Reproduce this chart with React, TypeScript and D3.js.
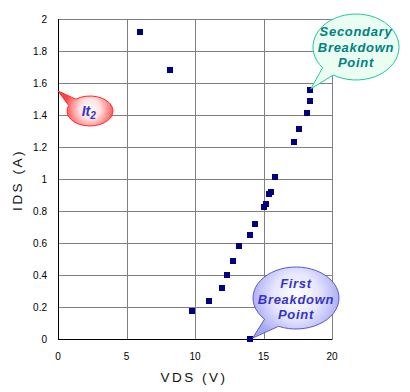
import React from "react";
import * as d3 from "d3";

// VDS (V) / IDS (A) measured points
const vds = [5.96, 8.15, 9.76, 11.0, 11.95, 12.34, 12.75, 13.19, 13.99, 14.38, 15.01, 15.18, 15.43, 15.58, 15.82, 17.2, 17.59, 18.15, 18.37, 18.37, 13.99];
const ids = [1.92, 1.68, 0.175, 0.24, 0.32, 0.4, 0.49, 0.58, 0.65, 0.72, 0.825, 0.844, 0.906, 0.92, 1.01, 1.233, 1.315, 1.41, 1.487, 1.556, 0];

const xTicks = [0, 5, 10, 15, 20];
const yTicks = [0, 0.2, 0.4, 0.6, 0.8, 1, 1.2, 1.4, 1.6, 1.8, 2];

const W = 410,
  H = 392;

const x = d3.scaleLinear().domain([0, 20]).range([58, 332]);
const y = d3.scaleLinear().domain([0, 2]).range([339, 19]);

const crisp = (v: number) => Math.round(v) + 0.5;

// ellipse + tail in one path
const bubble = (cx: number, cy: number, rx: number, ry: number, a1: number, a2: number, tx: number, ty: number) => {
  const r = (a: number) => (a * Math.PI) / 180;
  const p1 = [cx + rx * Math.cos(r(a1)), cy + ry * Math.sin(r(a1))];
  const p2 = [cx + rx * Math.cos(r(a2)), cy + ry * Math.sin(r(a2))];
  return `M${p2[0]},${p2[1]} A${rx},${ry} 0 1 1 ${p1[0]},${p1[1]} L${tx},${ty} Z`;
};

export default function App() {
  const font = "Liberation Sans, Arial, sans-serif";
  const lastIdx = 19;
  return (
    <svg
      width={W}
      height={H}
      style={{ position: "absolute", left: 0, top: 0, background: "#fff" }}
      fontFamily={font}
    >
      <defs>
        <radialGradient id="redg" gradientUnits="userSpaceOnUse" cx={90} cy={109} r={26}>
          <stop offset="0%" stopColor="#ffffff" />
          <stop offset="40%" stopColor="#ffe0e0" />
          <stop offset="100%" stopColor="#ff4040" />
        </radialGradient>
        <radialGradient id="blueg" gradientUnits="userSpaceOnUse" cx={296} cy={296} r={46}>
          <stop offset="0%" stopColor="#ffffff" />
          <stop offset="50%" stopColor="#e6e6ff" />
          <stop offset="100%" stopColor="#a8a8f0" />
        </radialGradient>
      </defs>
      <rect width={W} height={H} fill="#fff" />

      {/* grid */}
      {xTicks.slice(1).map((t) => (
        <line key={"gx" + t} x1={crisp(x(t))} x2={crisp(x(t))} y1={y(2)} y2={y(0)} stroke="#808080" />
      ))}
      {yTicks.slice(1).map((t) => (
        <line key={"gy" + t} x1={x(0)} x2={x(20)} y1={crisp(y(t))} y2={crisp(y(t))} stroke="#808080" />
      ))}
      {/* axes */}
      <line x1={crisp(x(0))} x2={crisp(x(0))} y1={y(2)} y2={crisp(y(0))} stroke="#000" />
      <line x1={x(0)} x2={crisp(x(20))} y1={crisp(y(0))} y2={crisp(y(0))} stroke="#000" />

      {/* tick labels */}
      {yTicks.map((t) => (
        <text key={"ty" + t} x={47} y={y(t) + 3.5} fontSize={10} textAnchor="end" fill="#000">
          {t}
        </text>
      ))}
      {xTicks.map((t) => (
        <text key={"tx" + t} x={x(t)} y={360} fontSize={10} textAnchor="middle" fill="#000">
          {t}
        </text>
      ))}
      <text x={194} y={382} fontSize={13.5} textAnchor="middle" letterSpacing={2.5} fill="#111">
        VDS (V)
      </text>
      <text transform="translate(21.5,180) rotate(-90)" fontSize={13.5} textAnchor="middle" letterSpacing={2.5} fill="#111">
        IDS (A)
      </text>

      {/* points */}
      {vds.map((v, i) => (
        <rect key={i} x={Math.round(x(v)) - 3} y={Math.round(y(ids[i])) - 3} width={6} height={6} fill="#000080" />
      ))}

      {/* It2 callout */}
      <path d={bubble(90, 111, 23, 15, 202, 232, x(0), y(1.55))} fill="url(#redg)" stroke="#ff2a2a" strokeWidth={1} />
      <text x={86} y={116} fontSize={14} fontWeight="bold" fontStyle="italic" fill="#3333cc" textAnchor="middle">
        It
      </text>
      <text x={93} y={119} fontSize={10} fontWeight="bold" fontStyle="italic" fill="#3333cc" textAnchor="middle">
        2
      </text>

      {/* Secondary breakdown callout */}
      <path
        d={bubble(356, 47, 43, 33, 122, 141, x(vds[lastIdx]) + 1, y(ids[lastIdx]) - 1)}
        fill="#eafff2"
        stroke="#20c89a"
        strokeWidth={1}
      />
      {["Secondary", "Breakdown", "Point"].map((s, i) => (
        <text key={s} x={356} y={36 + i * 15.5} fontSize={13} fontWeight="bold" fontStyle="italic" fill="#008080" textAnchor="middle" letterSpacing={0.7}>
          {s}
        </text>
      ))}

      {/* First breakdown callout */}
      <path
        d={bubble(296, 298, 43, 31, 114, 137, x(vds[20]) + 3, y(ids[20]) - 1)}
        fill="url(#blueg)"
        stroke="#5858d8"
        strokeWidth={1}
      />
      {["First", "Breakdown", "Point"].map((s, i) => (
        <text key={s} x={296} y={288 + i * 15.5} fontSize={13} fontWeight="bold" fontStyle="italic" fill="#3333cc" textAnchor="middle" letterSpacing={0.7}>
          {s}
        </text>
      ))}
    </svg>
  );
}
